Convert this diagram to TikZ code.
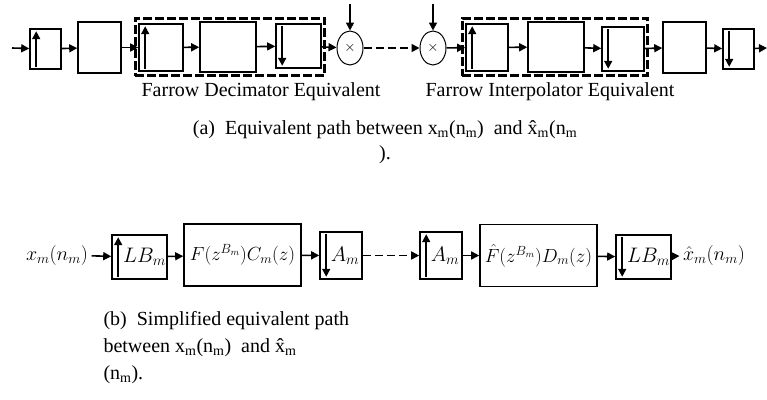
\RequirePackage{fix-cm}
\documentclass[tikz,border=0pt]{standalone}
\usepackage{fontspec}
\setmainfont{Liberation Serif}
\usepackage{tikz}
\usetikzlibrary{shapes, arrows.meta, positioning, calc, fit}
\usepackage{amsmath}

\begin{document}
\begin{tikzpicture}[x=1pt, y=1pt,
    blk/.style={draw, line width=1.6pt, minimum width=#1, inner sep=0pt},
    mult/.style={draw, ellipse, line width=1pt, minimum width=26pt, minimum height=34pt, inner sep=0pt, font=\Large},
    sig/.style={line width=1.6pt, -{Triangle[length=8pt, width=8pt]}},
    frame/.style={draw, line width=2.8pt, dash pattern=on 9pt off 3pt, inner sep=3pt},
    lbl/.style={font=\fontsize{20}{27}\selectfont},
    mth/.style={font=\fontsize{21}{24}\selectfont},
    wide/.style={font=\fontsize{19}{22}\selectfont}]
    \useasboundingbox (0,0) rectangle (767,-399);

    % (a) top path
    \coordinate (in) at (12,-48);
    \node[blk=31pt, minimum height=40pt] (up1) at (45.5,-49) {};
    \node[blk=43pt, minimum height=51pt] (filt1) at (99.5,-47.5) {};
    \node[blk=44pt, minimum height=47pt] (up2) at (161,-47.5) {};
    \node[blk=56pt, minimum height=50pt] (filt2) at (228,-47) {};
    \node[blk=45pt, minimum height=44pt] (down1) at (298.5,-46) {};
    \node[mult] (mult1) at (350,-48) {$\times$};
    \node[mult] (mult2) at (433,-48) {$\times$};
    \node[blk=42pt, minimum height=47pt] (up3) at (487,-47.5) {};
    \node[blk=56pt, minimum height=50pt] (filt3) at (556,-47) {};
    \node[blk=42pt, minimum height=44pt] (down2) at (623,-49) {};
    \node[blk=43pt, minimum height=51pt] (filt4) at (684.5,-47.5) {};
    \node[blk=31pt, minimum height=40pt] (down3) at (738.5,-49) {};
    \coordinate (out) at (767,-48);
    \coordinate (w1) at (350,-4);
    \coordinate (w2) at (433,-4);

    \node[frame, fit=(up2)(filt2)(down1)] (dec) {};
    \node[frame, fit=(up3)(filt3)(down2)] (intp) {};

    \draw[sig] (in) -- (up1);
    \draw[sig] (up1) -- (filt1);
    \draw[sig] (filt1) -- (up2);
    \draw[sig] (up2) -- (filt2);
    \draw[sig] (filt2) -- (down1);
    \draw[sig] (down1) -- (mult1);
    \draw[sig, dash pattern=on 8pt off 4pt] (mult1) -- (mult2);
    \draw[sig] (mult2) -- (up3);
    \draw[sig] (up3) -- (filt3);
    \draw[sig] (filt3) -- (down2);
    \draw[sig] (down2) -- (filt4);
    \draw[sig] (filt4) -- (down3);
    \draw[sig] (down3) -- (out);
    \draw[sig] (w1) -- (mult1);
    \draw[sig] (w2) -- (mult2);

    % up / down samplers
    \foreach \n in {up1, up2, up3}
        \draw[sig] ($(\n.south west)+(7,3)$) -- ($(\n.north west)+(7,-3)$);
    \foreach \n in {down1, down2, down3}
        \draw[sig] ($(\n.north west)+(7,-3)$) -- ($(\n.south west)+(7,3)$);

    \node[lbl] (declbl) at (261,-92) {Farrow Decimator Equivalent};
    \node[lbl] (intlbl) at (550,-92) {Farrow Interpolator Equivalent};
    \node[lbl] (capa) at (385,-130) {(a)\ \ Equivalent path between x\textsubscript{m}(n\textsubscript{m})\ \ and \^{x}\textsubscript{m}(n\textsubscript{m}};
    \node[lbl] (capa2) at (385,-155) {).};

    % (b) simplified path
    \node[mth, font=\fontsize{20}{24}\selectfont] (xin) at (57,-255) {$x_m(n_m)$};
    \node[blk=55pt, minimum height=44pt, mth] (lb1) at (139.5,-257) {\hspace{10pt}$LB_m$};
    \node[blk=117pt, minimum height=62pt, wide] (fc) at (242.5,-255) {$F(z^{B_m})C_m(z)$};
    \node[blk=42pt, minimum height=47pt, mth] (am1) at (341,-255.5) {\hspace{8pt}$A_m$};
    \node[blk=42pt, minimum height=47pt, mth] (am2) at (441,-255.5) {\hspace{8pt}$A_m$};
    \node[blk=117pt, minimum height=62pt, wide] (fd) at (538.5,-255.5) {$\hat{F}(z^{B_m})D_m(z)$};
    \node[blk=55pt, minimum height=44pt, mth] (lb2) at (643.5,-257) {\hspace{10pt}$LB_m$};
    \node[mth, font=\fontsize{20}{24}\selectfont] (xout) at (714,-255) {$\hat{x}_m(n_m)$};

    \draw[sig] (xin) -- (lb1);
    \draw[sig] (lb1) -- (fc);
    \draw[sig] (fc) -- (am1);
    \draw[sig, dash pattern=on 8pt off 4pt] (am1) -- (am2);
    \draw[sig] (am2) -- (fd);
    \draw[sig] (fd) -- (lb2);
    \draw[sig] (lb2) -- (xout);

    \foreach \n in {lb1, am2}
        \draw[sig] ($(\n.south west)+(7,3)$) -- ($(\n.north west)+(7,-3)$);
    \foreach \n in {am1, lb2}
        \draw[sig] ($(\n.north west)+(7,-3)$) -- ($(\n.south west)+(7,3)$);

    \node[lbl, anchor=north west, align=left] (capb) at (100,-308)
        {(b)\ \ Simplified equivalent path\\between x\textsubscript{m}(n\textsubscript{m})\ \ and \^{x}\textsubscript{m}\\(n\textsubscript{m}).};
\end{tikzpicture}
\end{document}
